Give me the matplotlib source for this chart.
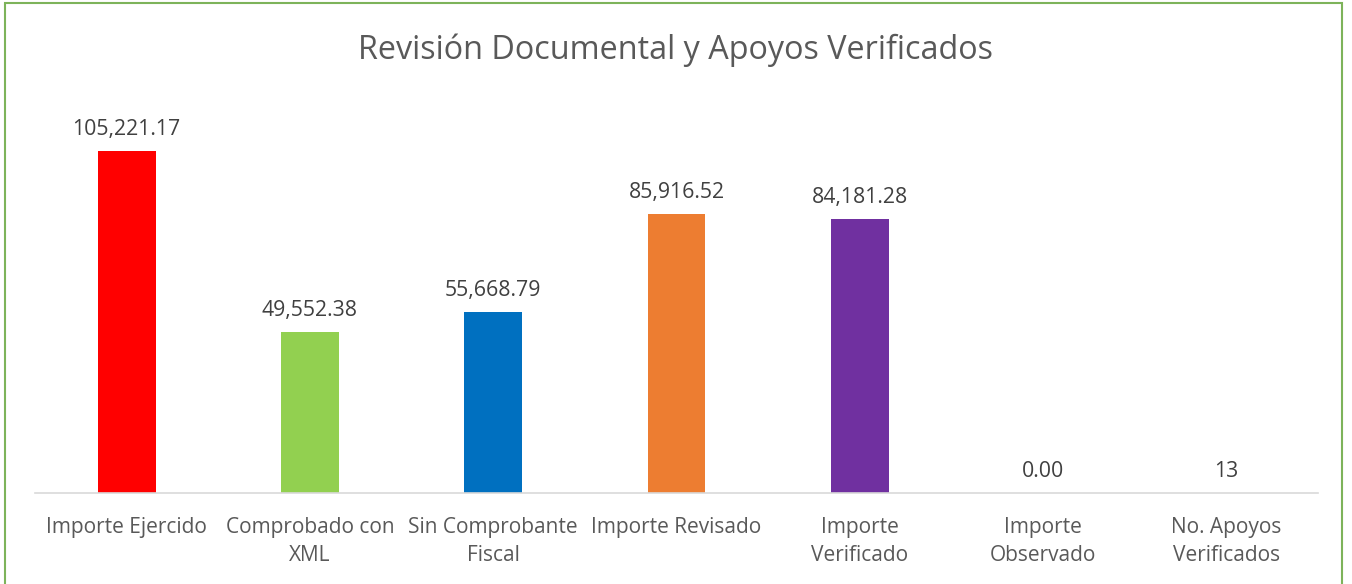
import matplotlib
matplotlib.use("Agg")
import matplotlib.pyplot as plt
from matplotlib.patches import Rectangle

categories = ["Importe Ejercido", "Comprobado con\nXML", "Sin Comprobante\nFiscal",
              "Importe Revisado", "Importe\nVerificado", "Importe\nObservado",
              "No. Apoyos\nVerificados"]
values = [105221.17, 49552.38, 55668.79, 85916.52, 84181.28, 0.00, 13]
labels = ["105,221.17", "49,552.38", "55,668.79", "85,916.52", "84,181.28", "0.00", "13"]
colors = ["#FF0000", "#92D050", "#0070C0", "#ED7D31", "#7030A0", "#A5A5A5", "#4472C4"]

plt.rcParams['font.family'] = ['Open Sans', 'DejaVu Sans']

W, H = 1352, 584
fig = plt.figure(figsize=(W/100, H/100), dpi=100)
fig.patch.set_facecolor("white")

# green frame
fig.patches.append(Rectangle((5/W, -0.05), (1342-5)/W, 1.05 - 3/H,
                             transform=fig.transFigure, fill=False,
                             edgecolor="#7DB35A", linewidth=1.5))

ax_top = 100
ax_bot = 493
ax = fig.add_axes([35/W, 1-ax_bot/H, (1318-35)/W, (ax_bot-ax_top)/H])
x = list(range(len(categories)))
ax.bar(x, values, width=0.316, color=colors)
ymax = 105221.17 * (ax_bot-ax_top) / (ax_bot-151)
ax.set_ylim(0, ymax)
ax.set_xlim(-0.5, len(categories)-0.5)

for xi, v, lab in zip(x, values, labels):
    ax.annotate(lab, (xi, v), xytext=(0, 8), textcoords="offset points",
                ha="center", va="bottom", fontsize=15.3, color="#404040")

for s in ["top", "right", "left"]:
    ax.spines[s].set_visible(False)
ax.spines["bottom"].set_color("#D9D9D9")
ax.spines["bottom"].set_linewidth(1.2)
ax.set_yticks([])
ax.set_xticks(x)
ax.set_xticklabels(categories, fontsize=15, color="#595959", linespacing=1.45)
ax.tick_params(axis="x", length=0, pad=17)

fig.text(0.5, 1-50/H, "Revisión Documental y Apoyos Verificados", ha="center",
         va="center", fontsize=23.3, color="#595959")

fig.savefig("out.png", dpi=100)
